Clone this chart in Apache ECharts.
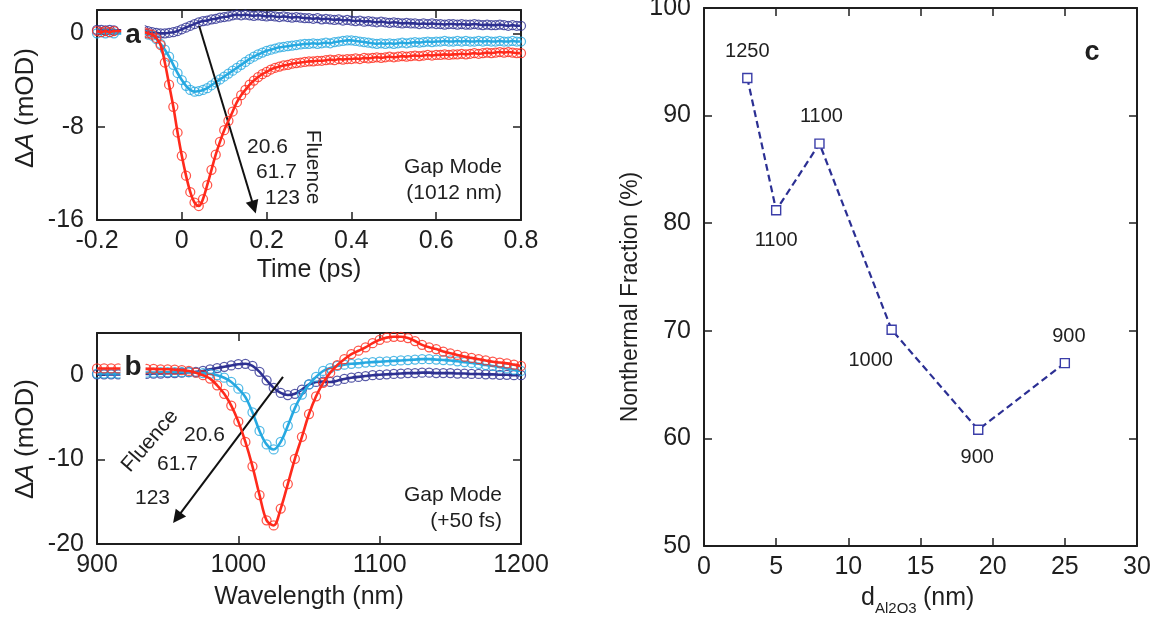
<!DOCTYPE html>
<html>
<head>
<meta charset="utf-8">
<script src="https://cdn.jsdelivr.net/npm/echarts/dist/echarts.min.js"></script>
<style>
  html, body { margin: 0; padding: 0; background: #fff; }
  #chart { width: 1157px; height: 619px; }
</style>
</head>
<body>
<div id="chart"></div>
<script>
// ---------- panel a: transient absorption vs delay time at 1012 nm ----------
const timeA = [
  -0.20, -0.19, -0.18, -0.17, -0.16,
  -0.09, -0.08, -0.07, -0.06, -0.05, -0.04, -0.03, -0.02, -0.01,
  0.00, 0.01, 0.02, 0.03, 0.04, 0.05, 0.06, 0.07, 0.08, 0.09,
  0.10, 0.11, 0.12, 0.13, 0.14, 0.15, 0.16, 0.17, 0.18, 0.19,
  0.20, 0.21, 0.22, 0.23, 0.24, 0.25, 0.26, 0.27, 0.28, 0.29,
  0.30, 0.31, 0.32, 0.33, 0.34, 0.35, 0.36, 0.37, 0.38, 0.39,
  0.40, 0.41, 0.42, 0.43, 0.44, 0.45, 0.46, 0.47, 0.48, 0.49,
  0.50, 0.51, 0.52, 0.53, 0.54, 0.55, 0.56, 0.57, 0.58, 0.59,
  0.60, 0.61, 0.62, 0.63, 0.64, 0.65, 0.66, 0.67, 0.68, 0.69,
  0.70, 0.71, 0.72, 0.73, 0.74, 0.75, 0.76, 0.77, 0.78, 0.79,
  0.80
];
// fluence 20.6
const lowA = [
  0.3, 0.3, 0.25, 0.3, 0.25,
  0.3, 0.2, 0.1, 0.05, 0.0, 0.0, 0.05, 0.1, 0.2,
  0.35, 0.5, 0.65, 0.8, 0.95, 1.05, 1.1, 1.2, 1.25, 1.35,
  1.4, 1.45, 1.55, 1.6, 1.55, 1.6, 1.55, 1.5, 1.55, 1.5,
  1.45, 1.5, 1.45, 1.4, 1.45, 1.4, 1.35, 1.4, 1.35, 1.3,
  1.3, 1.25, 1.3, 1.2, 1.25, 1.2, 1.15, 1.2, 1.1, 1.15,
  1.1, 1.05, 1.1, 1.0, 1.05, 1.0, 0.95, 1.0, 0.95, 0.9,
  0.95, 0.9, 0.85, 0.9, 0.85, 0.85, 0.8, 0.85, 0.8, 0.85,
  0.8, 0.8, 0.75, 0.8, 0.8, 0.75, 0.8, 0.75, 0.75, 0.8,
  0.75, 0.7, 0.75, 0.7, 0.7, 0.75, 0.7, 0.65, 0.7, 0.65,
  0.65
];
// fluence 61.7
const midA = [
  0.0, 0.1, 0.0, 0.1, 0.0,
  0.0, -0.1, -0.2, -0.5, -0.9, -1.4, -2.0, -2.7, -3.4,
  -4.0, -4.5, -4.85, -5.0, -4.95, -4.85, -4.7, -4.45, -4.2, -3.95,
  -3.7, -3.45, -3.2, -2.95, -2.7, -2.45, -2.2, -2.0, -1.8, -1.65,
  -1.5, -1.4, -1.3, -1.2, -1.15, -1.1, -1.05, -1.0, -0.95, -0.9,
  -0.9, -0.85, -0.9, -0.85, -0.8, -0.85, -0.75, -0.7, -0.65, -0.6,
  -0.6, -0.65, -0.7, -0.75, -0.8, -0.85, -0.9, -0.85, -0.9, -0.85,
  -0.9, -0.85, -0.8, -0.85, -0.8, -0.75, -0.8, -0.75, -0.7, -0.75,
  -0.7, -0.7, -0.65, -0.7, -0.7, -0.65, -0.7, -0.65, -0.7, -0.7,
  -0.65, -0.7, -0.65, -0.7, -0.7, -0.65, -0.7, -0.7, -0.65, -0.7,
  -0.7
];
// fluence 123
const highA = [
  0.2, 0.1, 0.2, 0.1, 0.2,
  0.1, 0.0, -0.1, -0.4, -1.0, -2.5, -4.4, -6.3, -8.5,
  -10.5, -12.2, -13.6, -14.5, -14.8, -14.2, -13.0, -11.7, -10.4, -9.3,
  -8.3, -7.5, -6.7, -5.9, -5.3, -4.85, -4.4, -4.05, -3.75, -3.5,
  -3.3, -3.1, -2.95, -2.85, -2.75, -2.7, -2.6, -2.55, -2.5, -2.45,
  -2.4, -2.4, -2.35, -2.35, -2.3, -2.25, -2.3, -2.2, -2.25, -2.2,
  -2.2, -2.15, -2.2, -2.1, -2.15, -2.1, -2.05, -2.1, -2.05, -2.0,
  -2.05, -2.0, -1.95, -2.0, -1.95, -1.9, -1.95, -1.9, -1.85, -1.9,
  -1.85, -1.85, -1.8, -1.85, -1.8, -1.8, -1.75, -1.8, -1.75, -1.7,
  -1.75, -1.7, -1.65, -1.7, -1.65, -1.6, -1.65, -1.6, -1.65, -1.7,
  -1.7
];

// ---------- panel b: spectra at +50 fs ----------
const waveB = [
  900, 905, 910, 915, 920, 925, 930, 935, 940, 945,
  950, 955, 960, 965, 970, 975, 980, 985, 990, 995,
  1000, 1005, 1010, 1015, 1020, 1025, 1030, 1035, 1040, 1045,
  1050, 1055, 1060, 1065, 1070, 1075, 1080, 1085, 1090, 1095,
  1100, 1105, 1110, 1115, 1120, 1125, 1130, 1135, 1140, 1145,
  1150, 1155, 1160, 1165, 1170, 1175, 1180, 1185, 1190, 1195,
  1200
];
const lowB = [
  0.1, 0.1, 0.1, 0.1, 0.15, 0.15, 0.15, 0.15, 0.2, 0.2,
  0.25, 0.25, 0.3, 0.35, 0.4, 0.5, 0.7, 0.85, 1.0, 1.15,
  1.3, 1.35, 1.1, 0.4, -0.6, -1.5, -2.1, -2.35, -2.2, -1.7,
  -1.1, -0.8, -0.75, -0.8, -0.65, -0.45, -0.3, -0.2, -0.1, 0.0,
  0.05, 0.1, 0.15, 0.2, 0.25, 0.25, 0.3, 0.3, 0.25, 0.25,
  0.25, 0.2, 0.2, 0.15, 0.15, 0.1, 0.1, 0.05, 0.05, 0.0,
  0.0
];
const midB = [
  0.2, 0.2, 0.2, 0.2, 0.25, 0.25, 0.3, 0.3, 0.3, 0.35,
  0.35, 0.35, 0.35, 0.35, 0.3, 0.25, 0.15, 0.0, -0.3, -0.8,
  -1.6, -2.6, -4.4, -6.6, -8.2, -8.8, -7.9, -6.0, -3.9, -2.3,
  -1.1, -0.2, 0.5, 0.85, 1.1, 1.25, 1.35, 1.4, 1.5, 1.55,
  1.6, 1.65, 1.7, 1.75, 1.8, 1.85, 1.9, 1.9, 1.85, 1.8,
  1.75, 1.65, 1.55, 1.45, 1.35, 1.2, 1.1, 0.95, 0.8, 0.65,
  0.5
];
const highB = [
  0.8, 0.8, 0.8, 0.8, 0.8, 0.8, 0.8, 0.75, 0.75, 0.7,
  0.7, 0.65, 0.6, 0.5, 0.3, 0.0, -0.4, -1.2, -2.2, -3.6,
  -5.5, -7.9, -10.8, -14.2, -17.2, -17.8, -15.8, -12.9, -9.9, -7.3,
  -4.6, -2.5, -0.9, 0.3, 1.2, 1.9, 2.5, 2.9, 3.3, 3.8,
  4.2, 4.45, 4.55, 4.55, 4.4, 4.05, 3.6, 3.3, 3.1, 2.8,
  2.6, 2.4, 2.2, 2.05, 1.9, 1.75, 1.6, 1.5, 1.4, 1.25,
  1.1
];

// ---------- panel c: nonthermal fraction vs Al2O3 thickness ----------
const thicknessC = [3, 5, 8, 13, 19, 25];
const fractionC = [93.5, 81.2, 87.4, 70.1, 60.8, 67.0];
const resonanceC = ['1250', '1100', '1100', '1000', '900', '900'];

// axis ranges: [min, max, step]
const rangeTimeA = [-0.2, 0.8, 0.2];
const rangeDeltaA = [-16, 2, 8];
const rangeWaveB = [900, 1200, 100];
const rangeDeltaB = [-20, 5, 10];
const rangeThickC = [0, 30, 5];
const rangeFracC = [50, 100, 10];

const fluenceLabels = ['20.6', '61.7', '123'];

// ---------- styling ----------
const FONT = '"Liberation Sans", Arial, Helvetica, sans-serif';
const INK = '#1f1f1f';
const NAVY = '#2e3192';
const SKY = '#27a9e1';
const RED = '#ff2a1c';

const axisLine = { show: true, onZero: false, lineStyle: { color: INK, width: 2 } };
const axisTick = { show: true, inside: true, length: 8, lineStyle: { color: INK, width: 1.5 } };

function stepLabel(step) {
  return function (v) {
    const k = v / step;
    return Math.abs(k - Math.round(k)) < 1e-6 ? String(+v.toFixed(6)) : '';
  };
}

function frame(g, xr, yr) {
  const lbl = (margin, step) => ({
    show: true, color: INK, fontSize: 25, fontFamily: FONT, margin: margin,
    formatter: stepLabel(step)
  });
  const base = (r) => ({
    type: 'value', gridIndex: g, min: r[0], max: r[1], interval: r[2],
    axisLine: axisLine, axisTick: axisTick, splitLine: { show: false }
  });
  return {
    x: [
      Object.assign(base(xr), { position: 'bottom', axisLabel: lbl(9, xr[2]) }),
      Object.assign(base(xr), { position: 'top', axisLabel: { show: false } })
    ],
    y: [
      Object.assign(base(yr), { position: 'left', axisLabel: lbl(13, yr[2]) }),
      Object.assign(base(yr), { position: 'right', axisLabel: { show: false } })
    ]
  };
}

const fa = frame(0, rangeTimeA, rangeDeltaA);
const fb = frame(1, rangeWaveB, rangeDeltaB);
const fc = frame(2, rangeThickC, rangeFracC);

const xAxes = fa.x.concat(fb.x, fc.x);
const yAxes = fa.y.concat(fb.y, fc.y);

const nameStyle = { color: INK, fontSize: 25, fontFamily: FONT, lineHeight: 30 };
xAxes[0].name = 'Time (ps)';
xAxes[0].nameLocation = 'middle';
xAxes[0].nameGap = 35;
xAxes[0].nameTextStyle = nameStyle;
xAxes[2].name = 'Wavelength (nm)';
xAxes[2].nameLocation = 'middle';
xAxes[2].nameGap = 38;
xAxes[2].nameTextStyle = nameStyle;

function zip(xs, ys) { return xs.map((x, i) => [x, ys[i]]); }

function traceSeries(xs, ys, color, axisIdx, z) {
  const pts = zip(xs, ys);
  return [
    {
      type: 'line', xAxisIndex: axisIdx, yAxisIndex: axisIdx, data: pts,
      showSymbol: false, smooth: 0.35, silent: true, z: z,
      lineStyle: { color: color, width: 2.6 }
    },
    {
      type: 'scatter', xAxisIndex: axisIdx, yAxisIndex: axisIdx, data: pts,
      symbol: 'circle', symbolSize: 9, silent: true, z: z,
      itemStyle: { color: 'rgba(255,255,255,0)', borderColor: color, borderWidth: 1.25, opacity: 0.8 }
    }
  ];
}

function arrow(axisIdx, from, to) {
  return {
    type: 'line', xAxisIndex: axisIdx, yAxisIndex: axisIdx, data: [], silent: true, z: 20,
    markLine: {
      silent: true, animation: false,
      symbol: ['none', 'triangle'], symbolSize: 13,
      lineStyle: { color: '#111', width: 2, type: 'solid' },
      itemStyle: { color: '#111' },
      label: { show: false },
      data: [[{ coord: from }, { coord: to }]]
    }
  };
}

// label placement around the points of panel c
const labelPlaceC = [
  { position: 'top', distance: 11, offset: [0, 0] },
  { position: 'bottom', distance: 15, offset: [0, 0] },
  { position: 'top', distance: 12, offset: [2, 0] },
  { position: 'bottom', distance: 16, offset: [-21, 0] },
  { position: 'bottom', distance: 12, offset: [-1, 0] },
  { position: 'top', distance: 11, offset: [4, 0] }
];

const seriesC = {
  type: 'line', xAxisIndex: 4, yAxisIndex: 4, silent: true, z: 5,
  data: thicknessC.map((t, i) => ({
    value: [t, fractionC[i]],
    label: Object.assign({ show: true, formatter: resonanceC[i] }, labelPlaceC[i])
  })),
  symbol: 'rect', symbolSize: 9, showSymbol: true,
  lineStyle: { color: '#2b2f93', width: 2.2, type: [7, 4] },
  itemStyle: { color: '#ffffff', borderColor: '#3a3da8', borderWidth: 1.4 },
  label: { color: INK, fontSize: 20, fontFamily: FONT }
};

const series = []
  .concat(traceSeries(timeA, lowA, NAVY, 0, 3))
  .concat(traceSeries(timeA, midA, SKY, 0, 4))
  .concat(traceSeries(timeA, highA, RED, 0, 5))
  .concat(traceSeries(waveB, lowB, NAVY, 2, 3))
  .concat(traceSeries(waveB, midB, SKY, 2, 4))
  .concat(traceSeries(waveB, highB, RED, 2, 5))
  .concat([
    arrow(0, [0.041, 0.63], [0.170, -14.9]),
    arrow(2, [1031.6, -0.2], [956.6, -16.9]),
    seriesC
  ]);

function txt(x, y, text, size, extra) {
  return {
    type: 'text', x: x, y: y, z: 100, silent: true,
    style: Object.assign({
      text: text, fill: INK, fontSize: size, fontFamily: FONT,
      align: 'center', verticalAlign: 'middle',
      textAlign: 'center', textVerticalAlign: 'middle'
    }, extra || {})
  };
}

function rotTxt(x, y, text, size, rot, extra) {
  const t = txt(x, y, text, size, extra);
  t.rotation = rot;
  return t;
}

const yNameRich = {
  n: { fontSize: 26, fontFamily: FONT, fill: INK, color: INK },
  i: { fontSize: 26, fontFamily: FONT, fontStyle: 'italic', fill: INK, color: INK }
};

const leftAlign = { align: 'left', textAlign: 'left' };
const rightAlign = { align: 'right', textAlign: 'right' };
const panelTag = { fontWeight: 'bold', backgroundColor: '#ffffff', padding: [2, 4] };

const graphics = [
  // y axis titles
  rotTxt(26, 108, '{n|Δ}{i|A}{n| (mOD)}', 26, Math.PI / 2, { rich: yNameRich }),
  rotTxt(26, 439, '{n|Δ}{i|A}{n| (mOD)}', 26, Math.PI / 2, { rich: yNameRich }),
  rotTxt(631, 297, 'Nonthermal Fraction (%)', 23, Math.PI / 2),
  // x axis title of panel c with subscript
  txt(861, 598, 'd', 25, leftAlign),
  txt(875, 609, 'Al2O3', 15, leftAlign),
  txt(916, 598, ' (nm)', 25, leftAlign),
  // panel tags
  txt(133, 35, 'a', 28, panelTag),
  txt(133, 367, 'b', 28, panelTag),
  txt(1092, 53, 'c', 27, { fontWeight: 'bold' }),
  // panel a annotations
  txt(247, 147, fluenceLabels[0], 21, leftAlign),
  txt(256, 172, fluenceLabels[1], 21, leftAlign),
  txt(265, 198, fluenceLabels[2], 21, leftAlign),
  rotTxt(313, 167, 'Fluence', 21, -Math.PI / 2),
  txt(502, 167, 'Gap Mode', 21, rightAlign),
  txt(502, 193, '(1012 nm)', 21, rightAlign),
  // panel b annotations
  txt(184, 435, fluenceLabels[0], 21, leftAlign),
  txt(157, 464, fluenceLabels[1], 21, leftAlign),
  txt(135, 498, fluenceLabels[2], 21, leftAlign),
  rotTxt(150, 441, 'Fluence', 21, 0.86),
  txt(502, 495, 'Gap Mode', 21, rightAlign),
  txt(502, 521, '(+50 fs)', 21, rightAlign)
];

const chart = echarts.init(document.getElementById('chart'), null, { renderer: 'canvas' });
chart.setOption({
  backgroundColor: '#ffffff',
  animation: false,
  grid: [
    { left: 97, top: 10, width: 424, height: 210, containLabel: false, outerBoundsMode: 'none' },
    { left: 97, top: 333, width: 424, height: 211, containLabel: false, outerBoundsMode: 'none' },
    { left: 704, top: 8, width: 433, height: 538, containLabel: false, outerBoundsMode: 'none' }
  ],
  xAxis: xAxes,
  yAxis: yAxes,
  series: series,
  graphic: { elements: graphics }
});
</script>
</body>
</html>
